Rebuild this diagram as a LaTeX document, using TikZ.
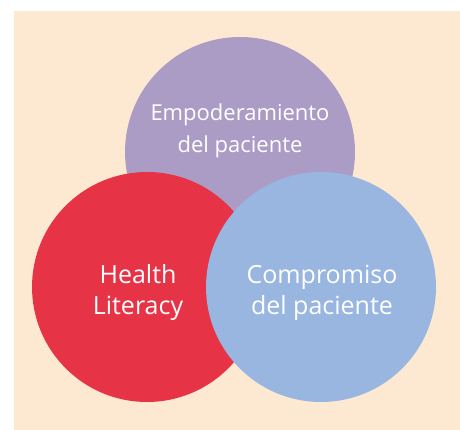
\documentclass[tikz,border=0pt]{standalone}
\usepackage{fontspec}
\setmainfont{Open Sans}
\definecolor{bgc}{HTML}{FDE9D2}
\definecolor{purp}{HTML}{AB9CC6}
\definecolor{redc}{HTML}{E63346}
\definecolor{bluec}{HTML}{99B6E0}
\tikzset{
  circ/.style={circle, minimum size=230pt, inner sep=0pt, draw=none},
  lbl/.style={text=white, align=center, inner sep=0pt, anchor=base},
  small/.style={font=\fontsize{22}{32}\selectfont},
  big/.style={font=\fontsize{25}{31}\selectfont}
}
\begin{document}
\begin{tikzpicture}[x=1pt,y=-1pt]
\useasboundingbox (0,0) rectangle (460,430);
\fill[bgc] (14,11) rectangle (460,430);
\node[circ, fill=purp] (emp) at (240,152) {};
\node[circ, fill=redc] (hl) at (147,287) {};
\node[circ, fill=bluec] (comp) at (321,287) {};
\node[lbl, small] (temp) at (240,153) {Empoderamiento\\del paciente};
\node[lbl, big] (thl) at (138,314) {Health\\Literacy};
\node[lbl, big] (tcomp) at (322,314) {Compromiso\\del paciente};
\end{tikzpicture}
\end{document}
